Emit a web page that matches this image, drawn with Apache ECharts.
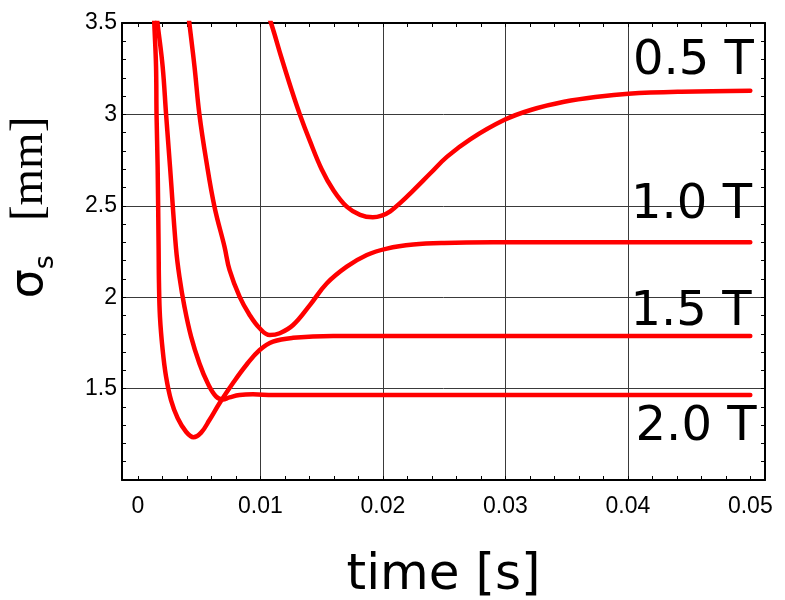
<!DOCTYPE html>
<html>
<head>
<meta charset="utf-8">
<script src="https://cdn.jsdelivr.net/npm/echarts@6/dist/echarts.min.js"></script>
<style>
  html, body { margin: 0; padding: 0; background: #fff; }
  #chart { width: 785px; height: 600px; }
</style>
</head>
<body>
<div id="chart"></div>
<script>
// sigma_s vs time for four field strengths, [time (s), sigma (mm)]
var curve05 = [
  [0.00983, 3.70], [0.01090, 3.493], [0.01172, 3.310], [0.01254, 3.135], [0.01322, 3.000],
  [0.01404, 2.855], [0.01500, 2.700], [0.01595, 2.586], [0.01705, 2.495], [0.01814, 2.450],
  [0.01918, 2.437], [0.01990, 2.446], [0.02060, 2.470], [0.02140, 2.515], [0.02251, 2.586],
  [0.02388, 2.678], [0.02525, 2.769], [0.02716, 2.865], [0.02989, 2.969], [0.03207, 3.024],
  [0.03480, 3.069], [0.03754, 3.097], [0.04005, 3.113], [0.04437, 3.124], [0.05000, 3.130]
];
var curve10 = [
  [0.00384, 3.70], [0.00421, 3.493], [0.00462, 3.261], [0.00502, 3.000], [0.00557, 2.751],
  [0.00625, 2.495], [0.00707, 2.276], [0.00748, 2.149], [0.00830, 2.003], [0.00912, 1.903],
  [0.00994, 1.830], [0.01076, 1.793], [0.01158, 1.803], [0.01267, 1.848], [0.01404, 1.957],
  [0.01541, 2.075], [0.01705, 2.167], [0.01869, 2.231], [0.02033, 2.266], [0.02248, 2.288],
  [0.02500, 2.297], [0.02900, 2.300], [0.05000, 2.300]
];
var curve15 = [
  [0.00122, 3.70], [0.00134, 3.493], [0.00148, 3.261], [0.00152, 3.000], [0.00161, 2.714],
  [0.00169, 2.268], [0.00172, 2.076], [0.00180, 1.893], [0.00202, 1.711], [0.00230, 1.564],
  [0.00270, 1.437], [0.00325, 1.338], [0.00393, 1.264], [0.00453, 1.234], [0.00516, 1.259],
  [0.00584, 1.328], [0.00666, 1.420], [0.00775, 1.529], [0.00885, 1.629], [0.00994, 1.711],
  [0.01103, 1.757], [0.01267, 1.778], [0.01595, 1.788], [0.02142, 1.788], [0.05000, 1.788]
];
var curve20 = [
  [0.00126, 3.70], [0.00161, 3.493], [0.00202, 3.261], [0.00230, 3.000], [0.00262, 2.714],
  [0.00311, 2.268], [0.00339, 2.112], [0.00380, 1.948], [0.00434, 1.784], [0.00502, 1.638],
  [0.00570, 1.529], [0.00639, 1.456], [0.00693, 1.441], [0.00748, 1.452], [0.00830, 1.465],
  [0.00939, 1.469], [0.01103, 1.465], [0.02142, 1.465], [0.05000, 1.465]
];

var fieldNames = ["0.5 T", "1.0 T", "1.5 T", "2.0 T"];
var fieldLabelX = [0.04540, 0.04524, 0.04520, 0.04561];
var fieldLabelY = [3.287, 2.500, 1.914, 1.282];

var xMajor = [0, 0.01, 0.02, 0.03, 0.04, 0.05];
var xGrid = [0.01, 0.02, 0.03, 0.04];
var xMinor = [];
for (var i = 0; i <= 25; i++) xMinor.push(+(i * 0.002).toFixed(3));

var chartDom = document.getElementById("chart");
var myChart = echarts.init(chartDom);

var frame = { show: true, onZero: false, lineStyle: { color: "#000", width: 2 } };
var tickStyle = { lineStyle: { color: "#000", width: 1 } };
var gridStyle = { show: true, lineStyle: { color: "#3a3a3a", width: 1 } };

var curveStyle = { color: "#ff0000", width: 4.5, cap: "round", join: "round" };
function curveSeries(name, data) {
  return {
    name: name,
    type: "line",
    data: data,
    smooth: 0.4,
    showSymbol: false,
    symbol: "none",
    lineStyle: curveStyle,
    itemStyle: { color: "#ff0000" },
    clip: true,
    silent: true,
  };
}

var labelData = fieldNames.map(function (n, k) {
  return { value: [fieldLabelX[k], fieldLabelY[k]], name: n };
});

var option = {
  animation: false,
  backgroundColor: "#fff",
  grid: { left: 122, right: 20, top: 23, bottom: 120, containLabel: false, outerBoundsMode: "none" },
  xAxis: [
    {
      type: "value", position: "bottom", min: -0.0013, max: 0.0512,
      axisLine: frame,
      axisTick: Object.assign({ show: true, inside: true, length: 4, customValues: xMinor }, tickStyle),
      axisLabel: {
        show: true, customValues: xMajor, margin: 15,
        fontFamily: "Liberation Sans", fontSize: 23, color: "#000",
        formatter: function (v) { return String(+v.toFixed(2)); },
      },
      splitLine: { show: false },
      name: "time [s]", nameLocation: "middle", nameGap: 71,
      nameTextStyle: { fontFamily: "DejaVu Sans", fontSize: 50, color: "#000" },
    },
    {
      type: "value", position: "top", min: -0.0013, max: 0.0512,
      axisLine: frame,
      axisTick: Object.assign({ show: true, inside: true, length: 4, customValues: xMinor }, tickStyle),
      axisLabel: { show: false },
      splitLine: { show: false },
    },
    {
      type: "value", position: "bottom", min: -0.0013, max: 0.0512,
      axisLine: { show: false },
      axisTick: { show: false, customValues: xGrid },
      axisLabel: { show: false },
      splitLine: gridStyle,
    },
  ],
  yAxis: [
    {
      type: "value", position: "left", min: 1, max: 3.5, interval: 0.5,
      axisLine: frame,
      axisTick: Object.assign({ show: true, inside: true, length: 4 }, tickStyle),
      minorTick: { show: true, splitNumber: 5, length: 4, lineStyle: { color: "#000", width: 1 } },
      axisLabel: {
        show: true, margin: 5, showMinLabel: false,
        fontFamily: "Liberation Sans", fontSize: 23, color: "#000",
      },
      splitLine: gridStyle,
      name: "{a|σ}{b|s}{g|}{c|[mm]}", nameLocation: "middle", nameRotate: 90, nameGap: 63,
      nameTextStyle: {
        color: "#000",
        padding: [0, 0, 0, 88],
        rich: {
          a: { fontFamily: "DejaVu Sans", fontSize: 46, lineHeight: 58, color: "#000" },
          b: { fontFamily: "DejaVu Sans", fontSize: 27, lineHeight: 27, verticalAlign: "bottom", color: "#000" },
          g: { width: 34, lineHeight: 58 },
          c: { fontFamily: "Liberation Serif", fontSize: 47, lineHeight: 58, color: "#000" },
        },
      },
    },
    {
      type: "value", position: "right", min: 1, max: 3.5, interval: 0.5,
      axisLine: frame,
      axisTick: Object.assign({ show: true, inside: true, length: 4 }, tickStyle),
      minorTick: { show: true, splitNumber: 5, length: 4, lineStyle: { color: "#000", width: 1 } },
      axisLabel: { show: false },
      splitLine: { show: false },
    },
  ],
  series: [
    curveSeries("0.5 T", curve05),
    curveSeries("1.0 T", curve10),
    curveSeries("1.5 T", curve15),
    curveSeries("2.0 T", curve20),
    {
      name: "labels",
      type: "scatter",
      data: labelData,
      symbolSize: 1,
      itemStyle: { color: "rgba(0,0,0,0)" },
      silent: true,
      z: 5,
      label: {
        show: true, position: [0, 0], align: "center", verticalAlign: "middle",
        fontFamily: "DejaVu Sans", fontSize: 48, color: "#000", opacity: 1,
        textBorderWidth: 0,
        formatter: function (p) { return p.name; },
      },
    },
  ],
};

option && myChart.setOption(option);
</script>
</body>
</html>
